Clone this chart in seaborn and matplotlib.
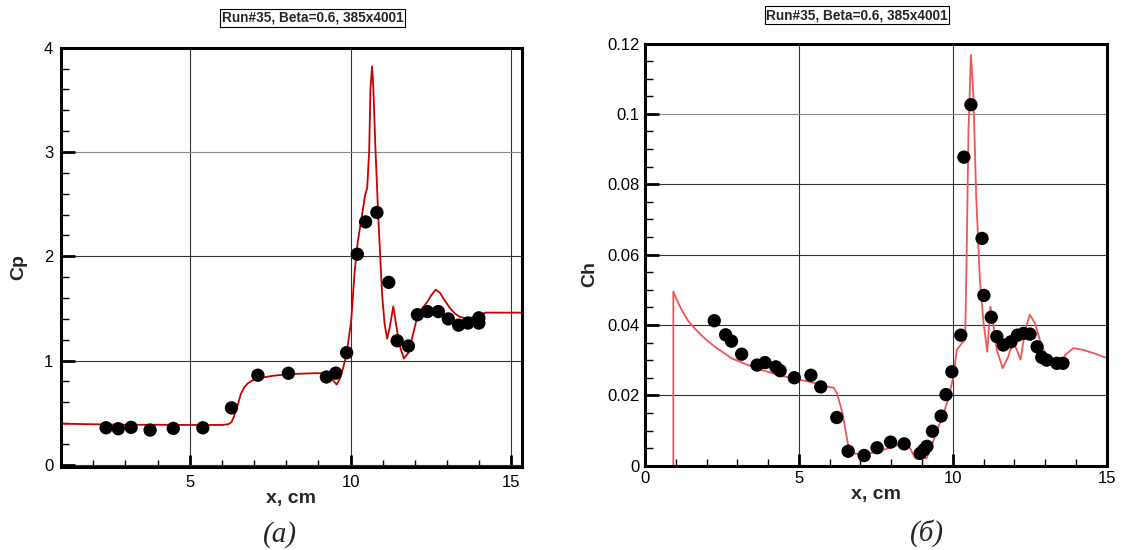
import numpy as np
import pandas as pd
import matplotlib
matplotlib.use("Agg")
import matplotlib.pyplot as plt
from matplotlib.ticker import MultipleLocator
import seaborn as sns

# ---- data: panel (a) Cp ----
cp_exp_x = [2.40, 2.78, 3.18, 3.77, 4.49, 5.41, 6.30, 7.12, 8.07, 9.25, 9.54, 9.88,
            10.21, 10.47, 10.82, 11.19, 11.45, 11.80, 12.08, 12.39, 12.73, 13.04,
            13.36, 13.65, 13.99, 13.99]
cp_exp_y = [0.356, 0.347, 0.36, 0.334, 0.35, 0.356, 0.547, 0.86, 0.879, 0.843, 0.88, 1.076,
            2.02, 2.33, 2.42, 1.75, 1.19, 1.14, 1.44, 1.47, 1.47, 1.40,
            1.34, 1.36, 1.41, 1.36]
cp_line_x = [1.0, 2.0, 3.0, 4.0, 5.0, 6.0, 6.2, 6.3, 6.37, 6.5, 6.59, 6.7, 6.8, 6.95, 7.12,
             7.6, 8.07, 8.95, 9.3, 9.46, 9.57, 9.67, 9.78, 9.88, 10.02, 10.13, 10.23, 10.36,
             10.45, 10.52, 10.58, 10.62, 10.67, 10.71, 10.77, 10.86, 10.94, 10.99, 11.06,
             11.14, 11.22, 11.33, 11.40, 11.52, 11.66, 11.79, 11.95, 12.09, 12.25, 12.38,
             12.52, 12.65, 12.78, 12.92, 13.1, 13.25, 13.4, 13.51, 13.7, 13.88, 14.2, 15.35]
cp_line_y = [0.395, 0.39, 0.385, 0.385, 0.383, 0.383, 0.39, 0.41, 0.46, 0.58, 0.68, 0.745,
             0.78, 0.81, 0.83, 0.855, 0.87, 0.88, 0.875, 0.81, 0.77, 0.83, 0.94, 1.07, 1.38,
             1.86, 2.15, 2.40, 2.58, 2.66, 3.01, 3.61, 3.82, 3.61, 3.07, 2.40, 1.89, 1.60,
             1.35, 1.21, 1.32, 1.52, 1.38, 1.15, 1.02, 1.07, 1.26, 1.44, 1.51, 1.56, 1.63,
             1.68, 1.65, 1.58, 1.50, 1.45, 1.42, 1.41, 1.41, 1.42, 1.46, 1.46]

# ---- data: panel (б) Ch ----
ch_exp_x = [2.25, 2.62, 2.81, 3.14, 3.64, 3.90, 4.25, 4.39, 4.85, 5.39, 5.71, 6.23, 6.60,
            7.12, 7.54, 7.98, 8.42, 8.94, 9.06, 9.16, 9.34, 9.62, 9.78, 9.97, 10.26,
            10.36, 10.59, 10.95, 11.01, 11.25, 11.43, 11.64, 11.89, 12.10, 12.30, 12.51,
            12.74, 12.89, 13.05, 13.38, 13.58]
ch_exp_y = [0.0412, 0.0372, 0.0354, 0.0317, 0.0286, 0.0293, 0.0281, 0.0270, 0.0250, 0.0257,
            0.0224, 0.0137, 0.0041, 0.0029, 0.0051, 0.0067, 0.0062, 0.0035, 0.0045, 0.0055,
            0.0098, 0.0141, 0.0202, 0.0267, 0.0371, 0.0877, 0.1026, 0.0646, 0.0484, 0.0422,
            0.0367, 0.0343, 0.0352, 0.0371, 0.0376, 0.0374, 0.0338, 0.0308, 0.0300, 0.0291,
            0.0291]
ch_line_x = [0.92, 0.92, 1.0, 1.19, 1.4, 1.66, 1.95, 2.24, 2.82, 3.63, 4.44, 5.37, 5.95,
             6.13, 6.24, 6.42, 6.59, 6.71, 7.11, 7.69, 8.39, 8.56, 8.79, 8.91, 9.03, 9.14,
             9.26, 9.43, 9.66, 9.84, 10.02, 10.13, 10.29, 10.40, 10.45, 10.51, 10.59, 10.67,
             10.76, 10.88, 11.0, 11.12, 11.22, 11.30, 11.43, 11.62, 11.80, 11.96, 12.08,
             12.20, 12.35, 12.50, 12.67, 12.89, 13.1, 13.27, 13.49, 13.65, 13.92, 14.24,
             14.57, 15.0]
ch_line_y = [0.0, 0.0495, 0.0478, 0.0443, 0.0412, 0.0386, 0.0361, 0.034, 0.0305, 0.0276,
             0.0255, 0.0238, 0.0224, 0.0222, 0.0205, 0.0148, 0.0063, 0.0036, 0.0031, 0.0044,
             0.0063, 0.0058, 0.002, 0.0019, 0.003, 0.002, 0.0044, 0.0086, 0.0139, 0.0186,
             0.0253, 0.0329, 0.0348, 0.0358, 0.06, 0.0955, 0.1168, 0.105, 0.0765, 0.0528,
             0.0405, 0.0324, 0.0452, 0.0414, 0.0329, 0.0277, 0.031, 0.0353, 0.0329, 0.0301,
             0.0386, 0.0429, 0.0405, 0.0339, 0.0306, 0.0291, 0.0282, 0.0315, 0.0334, 0.0329,
             0.032, 0.0306]

title_text = "Run#35, Beta=0.6, 385x4001"

sns.set_theme(style="white")
plt.rcParams["font.family"] = ["Liberation Sans", "DejaVu Sans"]

fig = plt.figure(figsize=(11.21, 5.5), dpi=100)
W, H = 1121, 550


def make_ax(left, right, top, bottom):
    return fig.add_axes([left / W, 1 - bottom / H, (right - left) / W, (bottom - top) / H])


axL = make_ax(61, 522.3, 47.7, 467)
axR = make_ax(645, 1106.7, 43.5, 465.7)

cp_line = pd.DataFrame({"x": cp_line_x, "y": cp_line_y})
cp_exp = pd.DataFrame({"x": cp_exp_x, "y": cp_exp_y})
ch_line = pd.DataFrame({"x": ch_line_x, "y": ch_line_y})
ch_exp = pd.DataFrame({"x": ch_exp_x, "y": ch_exp_y})

sns.lineplot(data=cp_line, x="x", y="y", ax=axL, color="#c80000", lw=1.3,
             sort=False, estimator=None, zorder=3)
sns.scatterplot(data=cp_exp, x="x", y="y", ax=axL, color="black", s=92,
                edgecolor="none", zorder=4)
sns.lineplot(data=ch_line, x="x", y="y", ax=axR, color="#f05656", lw=1.3,
             sort=False, estimator=None, zorder=3)
sns.scatterplot(data=ch_exp, x="x", y="y", ax=axR, color="black", s=92,
                edgecolor="none", zorder=4)

axL.set_xlim(1.0, 15.34)
axL.set_ylim(-0.02, 4.0)
axL.xaxis.set_major_locator(MultipleLocator(5))
axL.xaxis.set_minor_locator(MultipleLocator(1))
axL.yaxis.set_major_locator(MultipleLocator(1))
axL.yaxis.set_minor_locator(MultipleLocator(0.2))

axR.set_xlim(0, 15)
axR.set_ylim(0, 0.12)
axR.xaxis.set_major_locator(MultipleLocator(5))
axR.xaxis.set_minor_locator(MultipleLocator(1))
axR.yaxis.set_minor_locator(MultipleLocator(0.005))
axR.set_yticks([0, 0.02, 0.04, 0.06, 0.08, 0.1, 0.12])
axR.set_yticklabels(["0", "0.02", "0.04", "0.06", "0.08", "0.1", "0.12"])

for ax, ypad, xpad in ((axL, 5.5, 5.5), (axR, 4.0, 4.0)):
    ax.set_xlabel("")
    ax.set_ylabel("")
    ax.grid(True, which="major", color="#333333", lw=0.8, zorder=1)
    ax.set_axisbelow(True)
    for s in ax.spines.values():
        s.set_linewidth(2.2)
        s.set_color("black")
        s.set_zorder(5)
    ax.tick_params(axis="both", which="both", direction="in", colors="black",
                   bottom=True, left=True, top=False, right=False, labelsize=12)
    ax.tick_params(axis="y", which="major", length=10, width=2, pad=ypad)
    ax.tick_params(axis="y", which="minor", length=6, width=1)
    ax.tick_params(axis="x", which="major", length=9, width=2, pad=xpad)
    ax.tick_params(axis="x", which="minor", length=5, width=1)

# lighter grid lines seen in the reference
for gl, val in zip(axL.get_ygridlines(), axL.get_yticks()):
    if abs(val - 3) < 1e-9:
        gl.set_color("#8a8a8a")
for gl, val in zip(axR.get_ygridlines(), axR.get_yticks()):
    if abs(val - 0.1) < 1e-9:
        gl.set_color("#8a8a8a")

box = dict(boxstyle="square,pad=0.12", facecolor="white", edgecolor="black", lw=0.8)
fig.text(312.5 / W, 1 - 18 / H, title_text, ha="center", va="center",
         fontsize=9.8, fontweight="bold", bbox=box)
fig.text(857 / W, 1 - 15 / H, title_text, ha="center", va="center",
         fontsize=9.8, fontweight="bold", bbox=box)

fig.text(291.5 / W, 1 - 499 / H, "x, cm", ha="center", va="center",
         fontsize=14, fontweight="bold")
fig.text(876 / W, 1 - 495 / H, "x, cm", ha="center", va="center",
         fontsize=14, fontweight="bold")
fig.text(19 / W, 1 - 267 / H, "Cp", ha="center", va="center", rotation=90,
         fontsize=14, fontweight="bold")
fig.text(590 / W, 1 - 274 / H, "Ch", ha="center", va="center", rotation=90,
         fontsize=14, fontweight="bold")

fig.text(280 / W, 1 - 535 / H, "(a)", ha="center", va="center", fontsize=21,
         family=["Liberation Serif", "DejaVu Serif"], style="italic")
fig.text(927 / W, 1 - 533 / H, "(б)", ha="center", va="center", fontsize=21,
         family=["Liberation Serif", "DejaVu Serif"], style="italic")

fig.savefig("out.png", dpi=100, facecolor="white")
